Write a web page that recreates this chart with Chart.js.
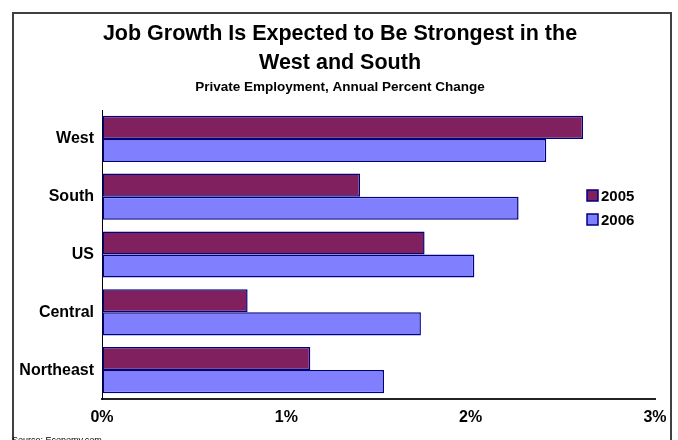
<!DOCTYPE html>
<html>
<head>
<meta charset="utf-8">
<script src="https://cdn.jsdelivr.net/npm/chart.js@4"></script>
<style>
  html, body { margin: 0; padding: 0; background: #fff; overflow: hidden; }
  #wrap { position: relative; width: 678px; height: 440px; }
  #frame { position: absolute; left: 12px; top: 12px; width: 660px; height: 440px;
           border: 2px solid #404040; box-sizing: border-box; }
  #source { position: absolute; left: 12px; top: 435px; font: 9px "Liberation Sans", Arial, sans-serif; color: #000; white-space: nowrap; }
</style>
</head>
<body>
<div id="wrap">
  <canvas id="chart" width="678" height="440"></canvas>
  <div id="frame"></div>
  <div id="source">Source: Economy.com</div>
</div>
<script>
// regions, top to bottom
const regions = ["West", "South", "US", "Central", "Northeast"];
const seriesNames = ["2005", "2006"];
// private employment, annual % change
const growth2005 = [2.61, 1.40, 1.75, 0.79, 1.13];
const growth2006 = [2.41, 2.26, 2.02, 1.73, 1.53];
const xTicks = [0, 1, 2, 3];

const titleLines = ["Job Growth Is Expected to Be Strongest in the", "West and South"];
const subtitleText = "Private Employment, Annual Percent Change";

const fontFamily = '"Liberation Sans", Arial, sans-serif';

// heading centred on the framed box rather than the plot
const headings = {
  id: "headings",
  afterDraw(chart) {
    const ctx = chart.ctx;
    ctx.save();
    ctx.fillStyle = "#000";
    ctx.textAlign = "center";
    ctx.textBaseline = "middle";
    ctx.font = "bold 21.5px " + fontFamily;
    titleLines.forEach((line, i) => ctx.fillText(line, 340, 34 + i * 29));
    ctx.font = "bold 13.5px " + fontFamily;
    ctx.fillText(subtitleText, 340, 87);
    ctx.restore();
  }
};

// small legend drawn inside the plot, right side
const floatingLegend = {
  id: "floatingLegend",
  afterDraw(chart) {
    const ctx = chart.ctx;
    ctx.save();
    ctx.font = "bold 15px " + fontFamily;
    ctx.textBaseline = "middle";
    chart.data.datasets.forEach((ds, i) => {
      const y = 196 + i * 24;
      ctx.fillStyle = ds.backgroundColor;
      ctx.fillRect(587, y - 6, 11, 11);
      ctx.strokeStyle = ds.borderColor;
      ctx.lineWidth = 1.5;
      ctx.strokeRect(587, y - 6, 11, 11);
      ctx.fillStyle = "#000";
      ctx.fillText(ds.label, 601, y + 1);
    });
    ctx.restore();
  }
};

new Chart(document.getElementById("chart"), {
  type: "bar",
  data: {
    labels: regions,
    datasets: [
      {
        label: seriesNames[0],
        data: growth2005,
        backgroundColor: "#80205F",
        borderColor: "#000080",
        borderWidth: 1.5,
        borderSkipped: false
      },
      {
        label: seriesNames[1],
        data: growth2006,
        backgroundColor: "#8080FF",
        borderColor: "#000080",
        borderWidth: 1.5,
        borderSkipped: false
      }
    ]
  },
  options: {
    indexAxis: "y",
    responsive: false,
    animation: false,
    layout: { padding: { left: 0, right: 23, top: 110, bottom: 0 } },
    datasets: { bar: { categoryPercentage: 0.8, barPercentage: 1.0 } },
    plugins: {
      legend: { display: false },
      tooltip: { enabled: false },
      title: { display: false }
    },
    scales: {
      x: {
        min: 0,
        max: 3,
        afterBuildTicks: (scale) => { scale.ticks = xTicks.map(v => ({ value: v })); },
        afterFit: (scale) => { scale.height = 41; },
        grid: { color: "rgba(0,0,0,0)", drawTicks: false },
        border: { display: true, color: "#222", width: 2 },
        ticks: {
          padding: 9,
          color: "#000",
          font: { family: fontFamily, size: 16, weight: "bold" },
          callback: (v) => v + "%"
        }
      },
      y: {
        afterFit: (scale) => { scale.width = 102; },
        grid: { color: "rgba(0,0,0,0)", drawTicks: false },
        border: { display: true, color: "#000", width: 1 },
        ticks: {
          padding: 8,
          color: "#000",
          font: { family: fontFamily, size: 16, weight: "bold" }
        }
      }
    }
  },
  plugins: [headings, floatingLegend]
});
</script>
</body>
</html>
